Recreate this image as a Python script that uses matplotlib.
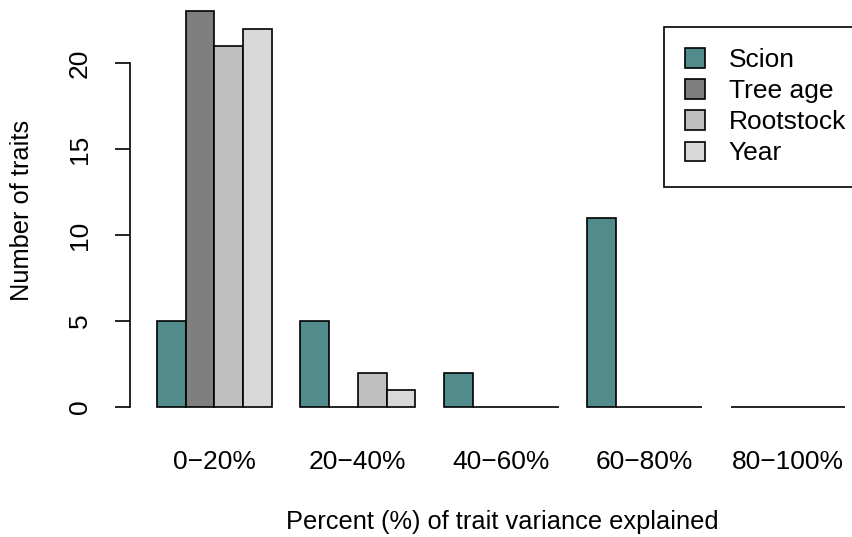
import numpy as np
from matplotlib import pyplot as plt

plt.rcParams['font.family'] = ['Liberation Sans', 'DejaVu Sans']

bins = ['0\u221220%', '20\u221240%', '40\u221260%', '60\u221280%', '80\u2212100%']
series = ['Scion', 'Tree age', 'Rootstock', 'Year']
scion = [5, 5, 2, 11, 0]
tree_age = [23, 0, 0, 0, 0]
rootstock = [21, 2, 0, 0, 0]
year = [22, 1, 0, 0, 0]
colors = ['#528B8B', '#7F7F7F', '#BFBFBF', '#D9D9D9']

W, H = 853, 537
fig = plt.figure(figsize=(W / 100, H / 100), dpi=100)
# plot region in pixels (R style barplot, right part runs off the figure)
left_px, right_px, bottom_px, top_px = 129.5, 873, 407, 11.4
ax = fig.add_axes([left_px / W, 1 - bottom_px / H,
                   (right_px - left_px) / W, (bottom_px - top_px) / H])

fs = 19
x0 = np.arange(len(bins)) * 5 + 1
for j, (vals, c, name) in enumerate(zip([scion, tree_age, rootstock, year], colors, series)):
    ax.bar(x0 + j, vals, width=1, align='edge', color=c, edgecolor='black',
           linewidth=1.2, label=name, clip_on=False)

ax.set_xlim(1 - 0.96, 25 + 0.96)
ax.set_ylim(0, 23)

for s in ['top', 'right', 'bottom']:
    ax.spines[s].set_visible(False)
ax.spines['left'].set_bounds(0, 20)
ax.spines['left'].set_linewidth(1.2)

ax.set_yticks([0, 5, 10, 15, 20])
ax.tick_params(axis='y', length=11, width=1.2, pad=16, labelsize=fs, labelrotation=90)
for t in ax.get_yticklabels():
    t.set_va('center')
ax.set_xticks(x0 + 2)
ax.set_xticklabels(bins)
ax.tick_params(axis='x', length=0, pad=31, labelsize=fs)

fig.text(22 / W, 1 - 210 / H, 'Number of traits', rotation=90,
         ha='center', va='center', fontsize=18.3)
fig.text(502 / W, 1 - 522 / H, 'Percent (%) of trait variance explained',
         ha='center', va='center', fontsize=18.3)

leg = ax.legend(loc='upper left', bbox_to_anchor=(664 / W, 1 - 27 / H),
                bbox_transform=fig.transFigure, borderaxespad=0, fancybox=False,
                edgecolor='black', framealpha=1, fontsize=fs,
                handlelength=0.75, handleheight=0.75, handletextpad=0.9,
                borderpad=0.8, labelspacing=0.27)
leg.get_frame().set_linewidth(1.2)

fig.savefig('out.png', dpi=100)
